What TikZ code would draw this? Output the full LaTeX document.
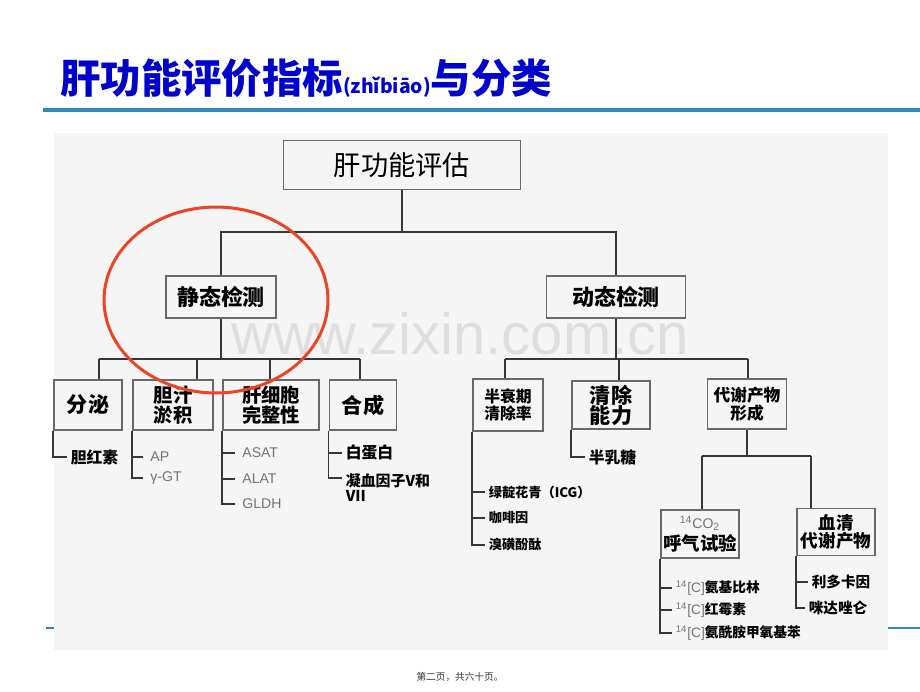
\documentclass[tikz,border=0pt]{standalone}
\usepackage{fontspec}
\setmainfont{Noto Sans CJK SC}
\setsansfont{Liberation Sans}
\usepackage{tikz}
\usetikzlibrary{positioning}
\definecolor{titleblue}{RGB}{0,0,204}
\definecolor{rulecyan}{RGB}{46,139,192}
\definecolor{panelgray}{RGB}{245,245,245}
\definecolor{boxgray}{RGB}{105,105,105}
\definecolor{linkgray}{RGB}{55,55,55}
\definecolor{assaygray}{RGB}{115,115,115}
\definecolor{markred}{RGB}{235,68,38}
\definecolor{stampgray}{RGB}{222,222,222}
\tikzstyle{box} = [rectangle, draw=boxgray, line width=1.1pt, inner sep=1pt, align=center]
\tikzstyle{leaf} = [anchor=west, inner xsep=2pt, inner ysep=1pt, font=\bfseries\fontsize{9}{9}\selectfont]
\tikzstyle{assay} = [anchor=west, inner xsep=4pt, inner ysep=1pt, text=assaygray, font=\sffamily\fontsize{8}{8}\selectfont]
\tikzstyle{link} = [draw=linkgray, line width=0.9pt]
\newcommand{\isot}[1]{{\sffamily\mdseries\color{assaygray}\textsuperscript{14}#1}}

\begin{document}
\begin{tikzpicture}[x=0.02cm, y=-0.02cm]
        \useasboundingbox (0,0) rectangle (920,691);
        % Background
        \path [fill=white] (0,0) rectangle (920,691);
        \path [draw=rulecyan, line width=1.2pt] (46,628) -- (920,628);
        \path [fill=panelgray] (54,133) rectangle (888,650);
        \path [draw=rulecyan, line width=2.8pt] (43,110) -- (920,110);
        \node at (460,334) [inner sep=0pt, text=stampgray, font=\sffamily\fontsize{33}{33}\selectfont] (stamp) {www.zixin.com.cn};

        % Title
        \node at (60,93) [anchor=base west, inner sep=0pt, text=titleblue, font=\bfseries\fontsize{23}{23}\selectfont] (title) {肝功能评价指标{\fontsize{11}{11}\selectfont(zhǐbiāo)}与分类};

        % Place nodes
        \node at (402,165) [box, minimum width=4.74cm, minimum height=0.98cm, font=\fontsize{15.5}{18}\selectfont] (eval) {肝功能评估};
        \node at (221,297) [box, minimum width=2.2cm, minimum height=0.84cm, font=\bfseries\fontsize{12.5}{14}\selectfont] (static) {静态检测};
        \node at (616,297) [box, minimum width=2.78cm, minimum height=0.84cm, font=\bfseries\fontsize{12.5}{14}\selectfont] (dynamic) {动态检测};

        \node at (88,405) [box, minimum width=1.36cm, minimum height=1cm, font=\bfseries\fontsize{12}{12}\selectfont] (secrete) {分泌};
        \node at (173,405) [box, minimum width=1.6cm, minimum height=1cm, font=\bfseries\fontsize{11}{10.5}\selectfont] (bile) {胆汁\\淤积};
        \node at (271,405) [box, minimum width=1.92cm, minimum height=1cm, font=\bfseries\fontsize{11}{10.5}\selectfont] (hepat) {肝细胞\\完整性};
        \node at (363,405) [box, minimum width=1.34cm, minimum height=1cm, font=\bfseries\fontsize{12}{12}\selectfont] (synth) {合成};

        \node at (508,405) [box, minimum width=1.4cm, minimum height=1.04cm, font=\bfseries\fontsize{9}{8.5}\selectfont] (halflife) {半衰期\\清除率};
        \node at (611,405) [box, minimum width=1.56cm, minimum height=0.96cm, font=\bfseries\fontsize{12}{11.5}\selectfont] (clear) {清除\\能力};
        \node at (747,404) [box, minimum width=1.58cm, minimum height=1cm, font=\bfseries\fontsize{9.5}{9}\selectfont] (metab) {代谢产物\\形成};
        \node at (700,534) [box, minimum width=1.56cm, minimum height=0.96cm, font=\bfseries\fontsize{10.5}{12.5}\selectfont] (breath) {{\sffamily\mdseries\color{assaygray}\fontsize{8}{8}\selectfont\textsuperscript{14}CO\textsubscript{2}}\\呼气试验};
        \node at (836,532) [box, minimum width=1.56cm, minimum height=0.94cm, font=\bfseries\fontsize{10}{9.5}\selectfont] (serum) {血清\\代谢产物};

        % Leaves
        \node at (67,457) [leaf] (bilirubin) {胆红素};
        \node at (143,457) [assay] (ap) {AP};
        \node at (143,478) [assay] (ggt) {γ-GT};
        \node at (235,453) [assay] (asat) {ASAT};
        \node at (235,479) [assay] (alat) {ALAT};
        \node at (235,504) [assay] (gldh) {GLDH};
        \node at (342,453) [leaf] (albumin) {白蛋白};
        \node at (342,472) [leaf, anchor=north west, align=left, font=\bfseries\fontsize{8.5}{8.5}\selectfont] (clotting) {凝血因子V和\\VII};
        \node at (485,492) [leaf, font=\bfseries\fontsize{7.5}{7.5}\selectfont] (icg) {绿靛花青（ICG）};
        \node at (485,518) [leaf, font=\bfseries\fontsize{7.5}{7.5}\selectfont] (caffeine) {咖啡因};
        \node at (485,545) [leaf, font=\bfseries\fontsize{7.5}{7.5}\selectfont] (bsp) {溴磺酚酞};
        \node at (585,457) [leaf] (galactose) {半乳糖};
        \node at (672,588) [leaf, font=\bfseries\fontsize{7.8}{7.8}\selectfont] (aminopyrine) {\isot{[C]}氨基比林};
        \node at (672,610) [leaf, font=\bfseries\fontsize{7.8}{7.8}\selectfont] (erythro) {\isot{[C]}红霉素};
        \node at (672,633) [leaf, font=\bfseries\fontsize{7.8}{7.8}\selectfont] (methacetin) {\isot{[C]}氨酰胺甲氧基苯};
        \node at (808,582) [leaf, font=\bfseries\fontsize{8.3}{8.3}\selectfont] (lidocaine) {利多卡因};
        \node at (805,608) [leaf, font=\bfseries\fontsize{8.3}{8.3}\selectfont] (midazolam) {咪达唑仑};

        \node at (460,677) [text=black!80, font=\fontsize{5.5}{6}\selectfont] (footer) {第二页，共六十页。};

        % Bus points
        \coordinate (trunk) at (402,232);
        \coordinate (sbus) at (221,359);
        \coordinate (s1) at (99,359);
        \coordinate (s2) at (197,359);
        \coordinate (s3) at (270,359);
        \coordinate (s4) at (360,359);
        \coordinate (dbus) at (616,359);
        \coordinate (d1) at (505,359);
        \coordinate (d2) at (619,359);
        \coordinate (d3) at (748,359);
        \coordinate (m1) at (702,456);
        \coordinate (m2) at (811,456);

        % Draw edges
        \path [link] (eval) -- (trunk);
        \path [link] (static) |- (trunk) -| (dynamic);
        \path [link] (static) -- (sbus);
        \path [link] (s1) -- (s4);
        \path [link] (s1) -- (s1 |- secrete.north);
        \path [link] (s2) -- (s2 |- bile.north);
        \path [link] (s3) -- (s3 |- hepat.north);
        \path [link] (s4) -- (s4 |- synth.north);
        \path [link] (dynamic) -- (dbus);
        \path [link] (d1) -- (d3);
        \path [link] (d1) -- (d1 |- halflife.north);
        \path [link] (d2) -- (d2 |- clear.north);
        \path [link] (d3) -- (d3 |- metab.north);
        \path [link] (metab.south) -- (metab.south |- m1);
        \path [link] (m1) -- (m2);
        \path [link] (m1) -- (m1 |- breath.north);
        \path [link] (m2) -- (m2 |- serum.north);

        \path [link] (secrete.south west) |- (bilirubin.west);
        \path [link] (bile.south west) |- (ap.west);
        \path [link] (bile.south west) |- (ggt.west);
        \path [link] (hepat.south west) |- (asat.west);
        \path [link] (hepat.south west) |- (alat.west);
        \path [link] (hepat.south west) |- (gldh.west);
        \path [link] (synth.south west) |- (albumin.west);
        \path [link] (synth.south west) |- ([yshift=-0.12cm]clotting.north west);
        \path [link] (halflife.south west) |- (icg.west);
        \path [link] (halflife.south west) |- (caffeine.west);
        \path [link] (halflife.south west) |- (bsp.west);
        \path [link] (clear.south west) |- (galactose.west);
        \path [link] (breath.south west) |- (aminopyrine.west);
        \path [link] (breath.south west) |- (erythro.west);
        \path [link] (breath.south west) |- (methacetin.west);
        \path [link] (serum.south west) |- (lidocaine.west);
        \path [link] (serum.south west) |- (midazolam.west);

        % Highlight
        \path [draw=markred, line width=1.7pt] (216,300) ellipse [x radius=2.24cm, y radius=1.86cm];
    \end{tikzpicture}
\end{document}
